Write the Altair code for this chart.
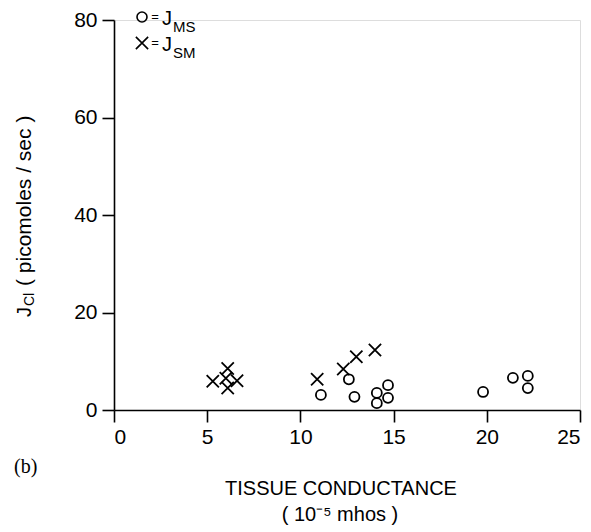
import altair as alt
import pandas as pd

# Tissue conductance (10^-5 mhos) and chloride flux (picomoles/sec)
ms_conductance = [11.1, 12.6, 12.9, 14.1, 14.1, 14.7, 14.7, 19.8, 21.4, 22.2, 22.2]
ms_flux = [3.1, 6.3, 2.7, 3.5, 1.4, 5.1, 2.5, 3.7, 6.6, 7.0, 4.5]

sm_conductance = [5.3, 6.1, 6.0, 6.6, 6.1, 10.9, 12.3, 13.0, 14.0]
sm_flux = [5.9, 8.5, 6.5, 6.0, 4.5, 6.3, 8.4, 10.9, 12.3]

x_ticks = [0, 5, 10, 15, 20, 25]
y_ticks = [0, 20, 40, 60, 80]

W, H = 466, 390
CROSS = "M-1,-1L1,1M-1,1L1,-1"
FONT = "Liberation Sans"

df = pd.DataFrame(
    {
        "conductance": ms_conductance + sm_conductance,
        "flux": ms_flux + sm_flux,
        "series": ["MS"] * len(ms_flux) + ["SM"] * len(sm_flux),
    }
)

shape_scale = alt.Scale(domain=["MS", "SM"], range=["circle", CROSS])
size_scale = alt.Scale(domain=["MS", "SM"], range=[100, 150])

axis_style = dict(
    title=None,
    grid=False,
    domainColor="black",
    domainWidth=1.6,
    tickColor="black",
    tickWidth=1.6,
    tickSize=12,
    labelFont=FONT,
    labelFontSize=21,
    labelColor="black",
)

points = (
    alt.Chart(df)
    .mark_point(filled=False, color="black", opacity=1, strokeWidth=1.8, clip=False)
    .encode(
        x=alt.X(
            "conductance:Q",
            scale=alt.Scale(domain=[0, 25], range=[0, W], nice=False, padding=0),
            axis=alt.Axis(values=x_ticks, labelPadding=4, **axis_style),
        ),
        y=alt.Y(
            "flux:Q",
            scale=alt.Scale(domain=[0, 80], range=[H, 0], nice=False, padding=0),
            axis=alt.Axis(values=y_ticks, labelPadding=5, **axis_style),
        ),
        shape=alt.Shape("series:N", scale=shape_scale, legend=None),
        size=alt.Size("series:N", scale=size_scale, legend=None),
    )
)

# Key in the upper left corner
key = pd.DataFrame({"series": ["MS", "SM"], "sub": ["MS", "SM"], "row": [-3, 23]})
key_sym = (
    alt.Chart(key)
    .mark_point(filled=False, color="black", opacity=1, strokeWidth=1.6, clip=False)
    .encode(
        x=alt.value(28),
        y=alt.Y("row:Q", scale=None),
        shape=alt.Shape("series:N", scale=shape_scale, legend=None),
        size=alt.Size("series:N", scale=alt.Scale(domain=["MS", "SM"], range=[80, 110]), legend=None),
    )
)
key_eq = (
    alt.Chart(key)
    .mark_text(text="=", font=FONT, fontSize=13, baseline="middle", align="center", color="black")
    .encode(x=alt.value(41), y=alt.Y("row:Q", scale=None))
)
key_j = (
    alt.Chart(key)
    .transform_calculate(yb="datum.row + 8")
    .mark_text(text="J", font=FONT, fontSize=20, baseline="alphabetic", align="left", color="black")
    .encode(x=alt.value(48), y=alt.Y("yb:Q", scale=None))
)
key_sub = (
    alt.Chart(key)
    .transform_calculate(yb="datum.row + 15")
    .mark_text(font=FONT, fontSize=15, baseline="alphabetic", align="left", color="black")
    .encode(x=alt.value(59), y=alt.Y("yb:Q", scale=None), text="sub:N")
)


def label(txt, x, y, size=20, angle=0, align="left", font=FONT):
    return (
        alt.Chart(pd.DataFrame({"t": [txt]}))
        .mark_text(
            font=font,
            fontSize=size,
            angle=angle,
            align=align,
            baseline="alphabetic",
            color="black",
        )
        .encode(x=alt.value(x), y=alt.value(y), text="t:N")
    )


# Axis titles (vertical one reads bottom to top, subscript shifted toward the baseline side)
y_title = (
    label("J", -83, 297, size=20, angle=270)
    + label("Cl", -80, 286, size=14, angle=270)
    + label("( picomoles / sec )", -83, 266, size=21, angle=270)
)
x_title = (
    label("TISSUE CONDUCTANCE", 227, 475, size=20, align="center")
    + label("( 10\u207b\u2075 mhos )", 226, 501, size=20, align="center")
)
panel = label("(b)", -100, 453, size=20, font="Liberation Serif")

chart = (
    alt.layer(points, key_sym, key_eq, key_j, key_sub, y_title, x_title, panel)
    .properties(
        width=W,
        height=H,
        autosize=alt.AutoSizeParams(type="none"),
        padding={"left": 114, "top": 20, "right": 11, "bottom": 122},
    )
    .configure_view(stroke=None)
    .configure(background="white")
)

chart.save("out.html", embed_options={"renderer": "svg", "actions": False})
